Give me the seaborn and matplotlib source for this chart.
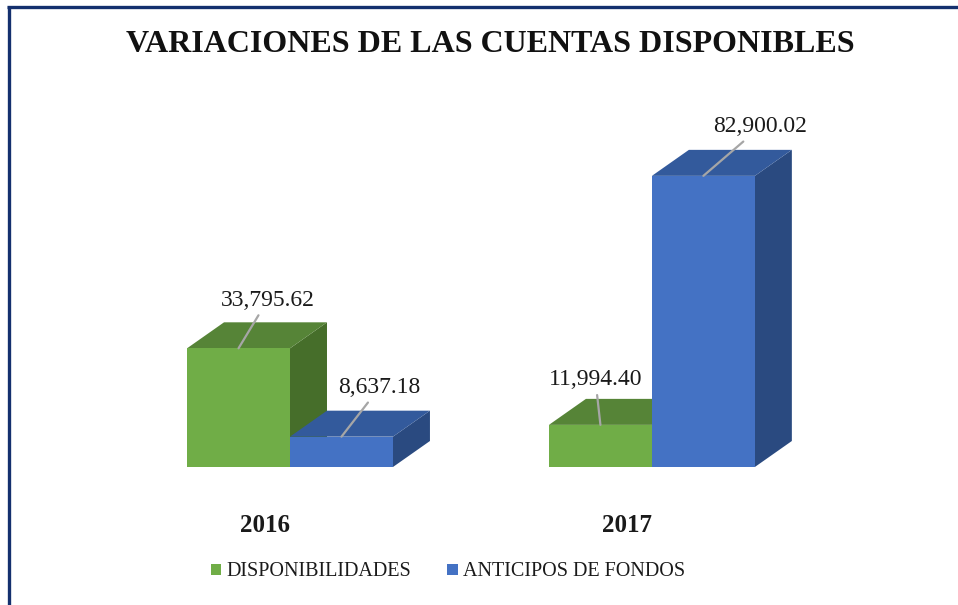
import matplotlib
matplotlib.use("Agg")
import matplotlib.pyplot as plt
import matplotlib.transforms as mtransforms
from matplotlib.patches import Polygon, Patch
from matplotlib.lines import Line2D
import seaborn as sns
import pandas as pd

# ---- data ----
years = ["2016", "2017"]
series = ["DISPONIBILIDADES", "ANTICIPOS DE FONDOS"]
disponibilidades = [33795.62, 11994.40]
anticipos = [8637.18, 82900.02]
title = "VARIACIONES DE LAS CUENTAS DISPONIBLES"

front_colors = {"DISPONIBILIDADES": "#70AD47", "ANTICIPOS DE FONDOS": "#4472C4"}
top_colors = {"DISPONIBILIDADES": "#568437", "ANTICIPOS DE FONDOS": "#335A9C"}
side_colors = {"DISPONIBILIDADES": "#466E2A", "ANTICIPOS DE FONDOS": "#2A4A80"}

df = pd.DataFrame({
    "year": years * 2,
    "series": [series[0]] * 2 + [series[1]] * 2,
    "value": disponibilidades + anticipos,
})

sns.set_theme(style="white")
plt.rcParams["font.family"] = ["Liberation Serif", "DejaVu Serif"]

W, H = 958, 605
fig = plt.figure(figsize=(W / 100, H / 100), dpi=100)
fig.patch.set_facecolor("white")
ax = fig.add_axes([100 / W, (H - 467) / H, 760 / W, 367 / H])

sns.barplot(data=df, x="year", y="value", hue="series", hue_order=series,
            order=years, palette=front_colors, width=0.569, legend=False,
            linewidth=0, saturation=1, ax=ax)

ax.set_xlim(-0.525, 1.575)
ax.set_ylim(0, 104500)

# depth offsets (in data units)
dx = 37 / 362
dy = 26 * 104500 / 367

for k, (name, cont) in enumerate(zip(series, ax.containers)):
    base_z = 2 + k
    for p in cont.patches:
        x0, w, h = p.get_x(), p.get_width(), p.get_height()
        p.set_zorder(base_z + 0.3)
        top = Polygon([(x0, h), (x0 + w, h), (x0 + w + dx, h + dy), (x0 + dx, h + dy)],
                      closed=True, facecolor=top_colors[name], edgecolor="none",
                      zorder=base_z + 0.2)
        side = Polygon([(x0 + w, 0), (x0 + w + dx, dy), (x0 + w + dx, h + dy), (x0 + w, h)],
                       closed=True, facecolor=side_colors[name], edgecolor="none",
                       zorder=base_z + 0.1)
        ax.add_patch(top)
        ax.add_patch(side)

# data labels with leader lines
label_offsets = {
    ("DISPONIBILIDADES", 0): (29, 48),
    ("ANTICIPOS DE FONDOS", 0): (38, 49),
    ("DISPONIBILIDADES", 1): (-5, 45),
    ("ANTICIPOS DE FONDOS", 1): (57, 49),
}
for name, cont in zip(series, ax.containers):
    for i, p in enumerate(cont.patches):
        xc = p.get_x() + p.get_width() / 2
        h = p.get_height()
        ax.annotate(f"{h:,.2f}", xy=(xc, h), xytext=label_offsets[(name, i)],
                    textcoords="offset pixels", ha="center", va="center",
                    fontsize=17, color="#1a1a1a", zorder=10,
                    arrowprops=dict(arrowstyle="-", color="#A6A6A6", lw=1.6,
                                    shrinkA=1, shrinkB=0))

# axes styling
for s in ax.spines.values():
    s.set_visible(False)
ax.set_yticks([])
ax.set_xlabel("")
ax.set_ylabel("")
ax.tick_params(axis="x", length=0, pad=34)
ax.set_xticks(range(len(years)))
ax.set_xticklabels(years, fontsize=18, fontweight="bold", color="#1a1a1a")
offset = mtransforms.ScaledTranslation(-25 / 100, 0, fig.dpi_scale_trans)
for lbl in ax.get_xticklabels():
    lbl.set_transform(lbl.get_transform() + offset)

# title
fig.text(490 / W, 1 - 45 / H, title, ha="center", va="center",
         fontsize=23, fontweight="bold", color="#111111")

# legend
handles = [Patch(facecolor=front_colors[s], edgecolor="none", label=s) for s in series]
fig.legend(handles=handles, loc="center", bbox_to_anchor=(448 / W, 1 - 572 / H),
           ncol=2, frameon=False, fontsize=14.5, handlelength=0.5, handleheight=0.5,
           handletextpad=0.25, columnspacing=1.8, borderaxespad=0,
           labelcolor="#1a1a1a")

# partial frame (top and left edges)
fig.add_artist(Line2D([7 / W, 1], [1 - 7 / H, 1 - 7 / H], transform=fig.transFigure,
                      color="#14306E", lw=2.4, solid_capstyle="butt"))
fig.add_artist(Line2D([9 / W, 9 / W], [0, 1 - 6 / H], transform=fig.transFigure,
                      color="#14306E", lw=2.4, solid_capstyle="butt"))

fig.savefig("out.png", dpi=100, facecolor="white")
